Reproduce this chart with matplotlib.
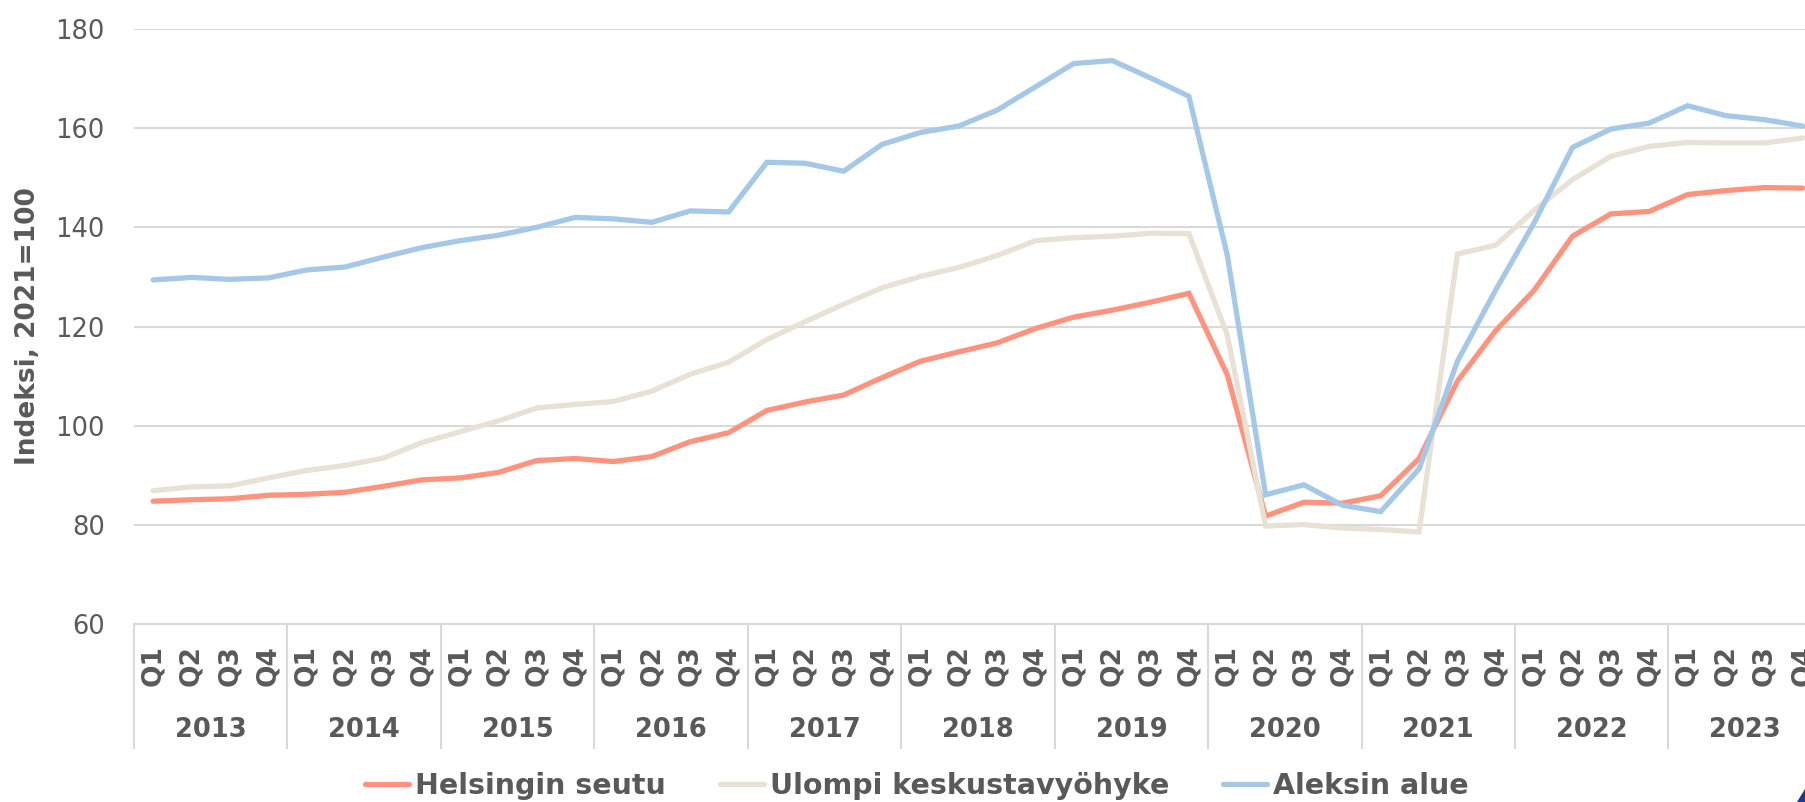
import matplotlib.pyplot as plt
from matplotlib.lines import Line2D
from matplotlib.patches import Polygon
import numpy as np

years = ['2013', '2014', '2015', '2016', '2017', '2018', '2019', '2020', '2021', '2022', '2023']
quarters = ['Q1', 'Q2', 'Q3', 'Q4']

helsinki = [84.8, 85.1, 85.3, 86.0, 86.2, 86.6, 87.8, 89.1, 89.5, 90.6, 93.0,
            93.4, 92.8, 93.8, 96.8, 98.6, 103.1, 104.8, 106.2, 109.7, 113.0, 114.9,
            116.7, 119.6, 121.9, 123.3, 124.9, 126.7, 110.3, 81.8, 84.6, 84.4, 85.9,
            93.4, 109.0, 119.2, 127.3, 138.2, 142.7, 143.2, 146.6, 147.4, 148.0, 147.9]
ulompi = [86.9, 87.7, 87.9, 89.5, 91.0, 92.0, 93.5, 96.6, 98.8, 101.0, 103.6,
          104.3, 104.9, 107.0, 110.4, 112.8, 117.4, 121.0, 124.5, 127.8, 130.1, 131.9,
          134.3, 137.3, 137.9, 138.2, 138.8, 138.7, 118.3, 79.8, 80.1, 79.4, 79.1,
          78.6, 134.6, 136.4, 143.4, 149.6, 154.3, 156.3, 157.1, 157.0, 157.0, 158.0]
aleksi = [129.4, 129.9, 129.5, 129.8, 131.4, 132.0, 134.0, 135.9, 137.3, 138.4, 140.0,
          142.0, 141.7, 141.0, 143.3, 143.1, 153.1, 152.9, 151.3, 156.7, 159.1, 160.4,
          163.6, 168.3, 173.0, 173.6, 170.1, 166.4, 134.4, 86.1, 88.1, 84.0, 82.7,
          91.3, 113.0, 127.4, 140.9, 156.1, 159.8, 161.0, 164.5, 162.5, 161.7, 160.4]

series = [('Helsingin seutu', helsinki, '#FF937E'),
          ('Ulompi keskustavyöhyke', ulompi, '#E7E1D6'),
          ('Aleksin alue', aleksi, '#A6C8E8')]

text_color = '#595959'
grid_color = '#D9D9D9'

fig = plt.figure(figsize=(18.05, 8.02), dpi=100)
ax = fig.add_axes([134 / 1805, 1 - 624.3 / 802, 1 - 134 / 1805, (624.3 - 28.8) / 802])

x = np.arange(len(helsinki))
for name, values, color in series:
    ax.plot(x, values, color=color, lw=3.8, label=name, solid_capstyle='round',
            solid_joinstyle='miter')

ax.set_ylim(60, 180)
ax.set_yticks(range(60, 181, 20))
ax.set_xlim(-0.5, -0.5 + (1805 - 134) / 38.36)
ax.grid(axis='y', color=grid_color, lw=1.5)
ax.set_axisbelow(True)
for side in ['top', 'right', 'left']:
    ax.spines[side].set_visible(False)
ax.spines['bottom'].set_color(grid_color)
ax.spines['bottom'].set_linewidth(1.5)

ax.tick_params(axis='y', length=0, pad=21, labelsize=18.5, labelcolor=text_color)
ax.set_xticks(x)
ax.set_xticklabels([q for y in years for q in quarters], rotation=90,
                   fontsize=19, fontweight='bold', color=text_color)
ax.tick_params(axis='x', length=0, pad=15)

# vuosiryhmät x-akselin alle
trans = ax.get_xaxis_transform()
for k, year in enumerate(years):
    ax.text(4 * k + 1.5, -0.1775, year, transform=trans, ha='center', va='center',
            fontsize=18.5, fontweight='bold', color=text_color)
for k in range(len(years) + 1):
    ax.add_line(Line2D([4 * k - 0.5, 4 * k - 0.5], [0, -0.2077], transform=trans,
                       color=grid_color, lw=1.5, clip_on=False))

fig.text(28 / 1805, 1 - 326 / 802, 'Indeksi, 2021=100', rotation=90, ha='center',
         va='center', fontsize=19, fontweight='bold', color=text_color)

leg = fig.legend(loc='center', bbox_to_anchor=(0.508, 1 - 786 / 802), ncol=3,
                 frameon=False, fontsize=20.5, handlelength=1.55, handletextpad=0.2,
                 columnspacing=1.9, borderpad=0)
for t in leg.get_texts():
    t.set_color(text_color)
    t.set_fontweight('bold')

# logon reuna oikeassa alakulmassa
fig.patches.append(Polygon([(1797 / 1805, 0), (1, 0), (1, 13 / 802)], closed=True,
                           transform=fig.transFigure, color='#1E3A8A'))

plt.savefig('out.png', dpi=100)
